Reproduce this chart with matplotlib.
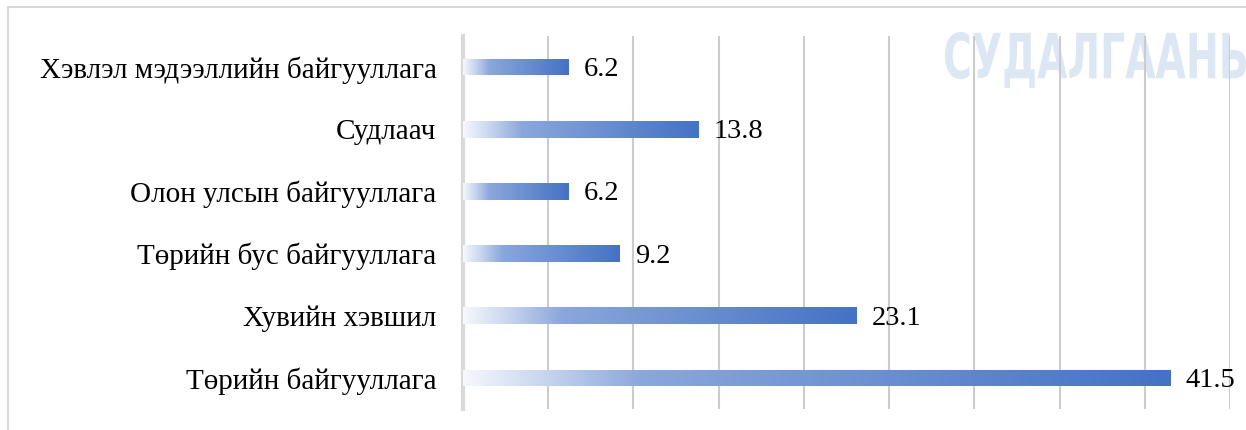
import matplotlib.pyplot as plt
import numpy as np
from matplotlib.colors import LinearSegmentedColormap
from matplotlib.patches import Rectangle, PathPatch
from matplotlib.textpath import TextPath
from matplotlib.font_manager import FontProperties
from matplotlib.transforms import Affine2D, IdentityTransform

# Өгөгдөл
categories = ["Төрийн байгууллага", "Хувийн хэвшил", "Төрийн бус байгууллага",
              "Олон улсын байгууллага", "Судлаач", "Хэвлэл мэдээллийн байгууллага"]
values = [41.5, 23.1, 9.2, 6.2, 13.8, 6.2]

W, H = 1246, 430
fig = plt.figure(figsize=(W / 100, H / 100), dpi=100)

# Хүрээ
fig.patches.append(Rectangle((8 / W, -0.1), 1.2, (H - 7) / H + 0.1,
                             transform=fig.transFigure, fill=False,
                             edgecolor="#d9d9d9", linewidth=1.5, zorder=-2))

# Усан тэмдэг (нарийсгасан бичвэр), торны ард
tp = TextPath((0, 0), "СУДАЛГААНЬ", size=50,
              prop=FontProperties(family="DejaVu Sans", weight="bold"))
ext = tp.get_extents()
x0, x1, ytop, ybot = 945, 1246, 32, 88
sx = (x1 - x0) / ext.width
sy = (ybot - ytop) / ext.height
tr = Affine2D().translate(-ext.x0, -ext.y0).scale(sx, sy).translate(x0, H - ybot)
fig.patches.append(PathPatch(tr.transform_path(tp), transform=IdentityTransform(),
                             facecolor="#dde7f3", edgecolor="none", zorder=-1))

ax = fig.add_axes([463 / W, 21 / H, (1230 - 463) / W, (409 - 36) / H])
ax.patch.set_alpha(0)
y = np.arange(len(categories))

cmap = LinearSegmentedColormap.from_list(
    "grad", [(0, "#f5f8fc"), (0.12, "#c5d3ee"), (0.25, "#8ba7dc"), (1, "#4472c4")])
grad = np.linspace(0, 1, 256).reshape(1, -1)

bars = ax.barh(y, values, height=0.27, color="none", edgecolor="none", zorder=3)
for b, v in zip(bars, values):
    yy = b.get_y()
    im = ax.imshow(grad, cmap=cmap, aspect="auto", zorder=3,
                   extent=[0, v, yy, yy + b.get_height()], origin="lower")
    im.set_clip_path(b)
    ax.text(v + 0.9, yy + b.get_height() / 2 - 0.04, f"{v}", va="center", ha="left",
            fontsize=20.5, family="Liberation Serif")
ax.set_xlim(0, 45)
ax.set_ylim(-0.5, len(categories) - 0.5)

ax.set_xticks(np.arange(0, 46, 5))
ax.xaxis.grid(True, color="#cccccc", linewidth=1.5)
ax.set_axisbelow(True)
ax.tick_params(axis="x", length=0, labelbottom=False)
ax.tick_params(axis="y", length=0, pad=19)
ax.set_yticks(y)
ax.set_yticklabels(categories, fontsize=21, family="Liberation Serif")
for s in ["top", "right", "bottom"]:
    ax.spines[s].set_visible(False)
ax.spines["left"].set_color("#d9d9d9")
ax.spines["left"].set_linewidth(3)

fig.savefig("out.png", dpi=100)
